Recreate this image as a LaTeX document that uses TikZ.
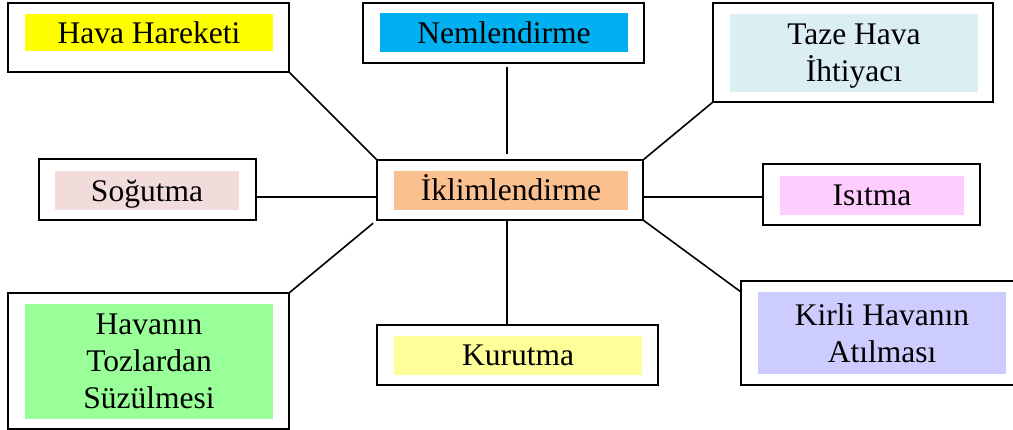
\documentclass[tikz,border=0pt]{standalone}
\usepackage{fontspec}
\setmainfont{Liberation Serif}
\newfontfamily\timesfont{Liberation Serif}
\definecolor{cYellow}{HTML}{FFFF00}
\definecolor{cCyan}{HTML}{00B0F0}
\definecolor{cIce}{HTML}{DAEEF3}
\definecolor{cRose}{HTML}{F2DCDB}
\definecolor{cPeach}{HTML}{FAC090}
\definecolor{cPink}{HTML}{FFCCFF}
\definecolor{cGreen}{HTML}{99FF99}
\definecolor{cLemon}{HTML}{FFFF99}
\definecolor{cLav}{HTML}{CCCCFF}
\begin{document}
\begin{tikzpicture}[x=1pt,y=-1pt,
  outerbox/.style={draw, line width=2.2pt, inner sep=0pt, outer sep=0pt, fill=white},
  innerbox/.style={inner sep=0pt, outer sep=0pt, align=center,
    font=\timesfont\fontsize{31.5}{37}\selectfont, text depth=0pt},
  link/.style={line width=1.6pt}]
\useasboundingbox (0,0) rectangle (1013,430);
% outer frames
\node[outerbox, minimum width=281pt, minimum height=69pt] (hh) at (148.5,37.5) {};
\node[outerbox, minimum width=281pt, minimum height=60pt] (nm) at (503.5,33) {};
\node[outerbox, minimum width=280pt, minimum height=99pt] (th) at (853,52.5) {};
\node[outerbox, minimum width=217pt, minimum height=61pt] (sg) at (147.5,189.5) {};
\node[outerbox, minimum width=266pt, minimum height=60pt] (ik) at (510,190) {};
\node[outerbox, minimum width=217pt, minimum height=61pt] (is) at (871.5,194.5) {};
\node[outerbox, minimum width=281pt, minimum height=136pt] (sz) at (148.5,361) {};
\node[outerbox, minimum width=281pt, minimum height=60pt] (ku) at (517.5,355) {};
\node[outerbox, minimum width=282pt, minimum height=104pt] (kh) at (882,333) {};
% coloured labels
\node[innerbox, fill=cYellow, minimum width=248pt, minimum height=37pt] (hhi) at (149,32.5) {Hava Hareketi};
\node[innerbox, fill=cCyan, minimum width=248pt, minimum height=39pt] (nmi) at (504,32.5) {Nemlendirme};
\node[innerbox, fill=cIce, minimum width=248pt, minimum height=78pt] (thi) at (854,53) {Taze Hava\\İhtiyacı};
\node[innerbox, fill=cRose, minimum width=184pt, minimum height=39pt] (sgi) at (147,190.5) {Soğutma};
\node[innerbox, fill=cPeach, minimum width=234pt, minimum height=39pt, text height=21pt] (iki) at (511,190.5) {İklimlendirme};
\node[innerbox, fill=cPink, minimum width=184pt, minimum height=39pt] (isi) at (872,195.5) {Isıtma};
\node[innerbox, fill=cGreen, minimum width=248pt, minimum height=115pt] (szi) at (149,361.5) {Havanın\\Tozlardan\\Süzülmesi};
\node[innerbox, fill=cLemon, minimum width=248pt, minimum height=39pt] (kui) at (518,355.5) {Kurutma};
\node[innerbox, fill=cLav, minimum width=248pt, minimum height=82pt] (khi) at (882,333) {Kirli Havanın\\Atılması};
% connectors
\draw[link] (hh.south east) -- (ik.north west);
\draw[link, shorten <=4pt, shorten >=6pt] ([xshift=3.5pt]nm.south) -- ([xshift=3.5pt]nm.south |- ik.north);
\draw[link] (th.south west) -- (ik.north east);
\draw[link] ([yshift=-7.5pt]sg.east) -- ([yshift=-7.5pt]sg.east -| ik.west);
\draw[link] ([yshift=-7pt]ik.east) -- ([yshift=-7pt]ik.east -| is.west);
\draw[link] (ik.south east) -- ([yshift=-11pt]kh.north west);
\draw[link] ([xshift=-3pt]ik.south) -- ([xshift=-3pt]ik.south |- ku.north);
\draw[link, shorten <=5pt] (ik.south west) -- (sz.north east);
\end{tikzpicture}
\end{document}
